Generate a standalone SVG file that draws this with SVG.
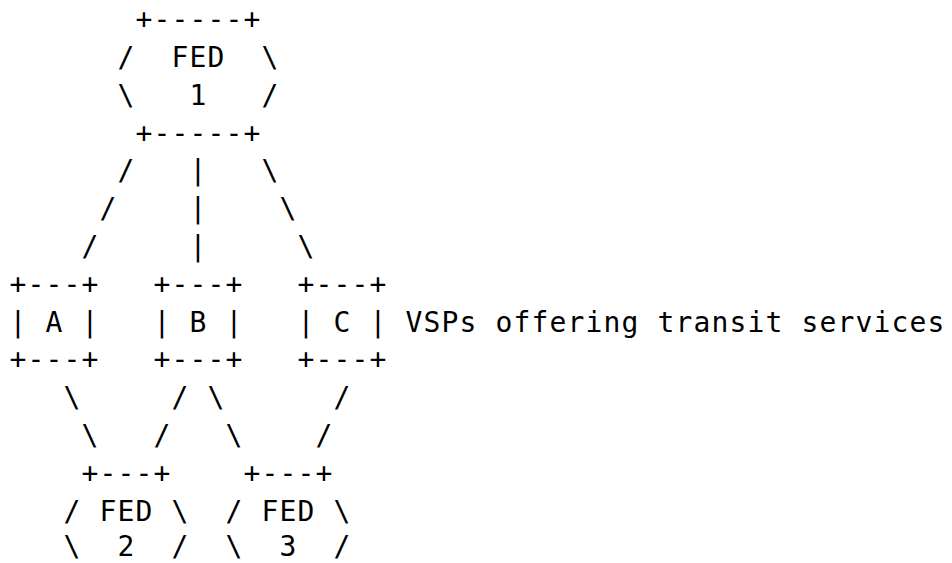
<svg xmlns="http://www.w3.org/2000/svg" width="952" height="563" viewBox="0 0 952 563" xml:space="preserve">
<style>
text { font-family: "DejaVu Sans Mono", "Liberation Mono", monospace; font-size: 28px; letter-spacing: 1.14px; fill: #000; white-space: pre; }
</style>
<rect width="952" height="563" fill="#fff"/>
<g id="fed1">
<text x="135.6" y="29.2">+-----+</text>
<text x="117.6" y="67">/  FED  \</text>
<text x="117.6" y="104.8">\   1   /</text>
<text x="135.6" y="142.6">+-----+</text>
</g>
<g id="connectors">
<text x="117.6" y="180.4">/</text>
<text x="189.6" y="180.4">|</text>
<text x="261.6" y="180.4">\</text>
<text x="99.6" y="218.2">/</text>
<text x="189.6" y="218.2">|</text>
<text x="279.6" y="218.2">\</text>
<text x="81.6" y="256">/</text>
<text x="189.6" y="256">|</text>
<text x="297.6" y="256">\</text>
<text x="63.6" y="407.2">\</text>
<text x="171.6" y="407.2">/</text>
<text x="207.6" y="407.2">\</text>
<text x="333.6" y="407.2">/</text>
<text x="81.6" y="445">\</text>
<text x="153.6" y="445">/</text>
<text x="225.6" y="445">\</text>
<text x="315.6" y="445">/</text>
</g>
<g id="vspA">
<text x="9.6" y="293.8">+---+</text>
<text x="9.6" y="331.6">| A |</text>
<text x="9.6" y="369.4">+---+</text>
</g>
<g id="vspB">
<text x="153.6" y="293.8">+---+</text>
<text x="153.6" y="331.6">| B |</text>
<text x="153.6" y="369.4">+---+</text>
</g>
<g id="vspC">
<text x="297.6" y="293.8">+---+</text>
<text x="297.6" y="331.6">| C |</text>
<text x="297.6" y="369.4">+---+</text>
</g>
<g id="label">
<text x="405.6" y="331.6">VSPs offering transit services</text>
</g>
<g id="fed2">
<text x="81.6" y="482.8">+---+</text>
<text x="63.6" y="520.6">/ FED \</text>
<text x="63.6" y="555.5">\  2  /</text>
</g>
<g id="fed3">
<text x="243.6" y="482.8">+---+</text>
<text x="225.6" y="520.6">/ FED \</text>
<text x="225.6" y="555.5">\  3  /</text>
</g>
</svg>
